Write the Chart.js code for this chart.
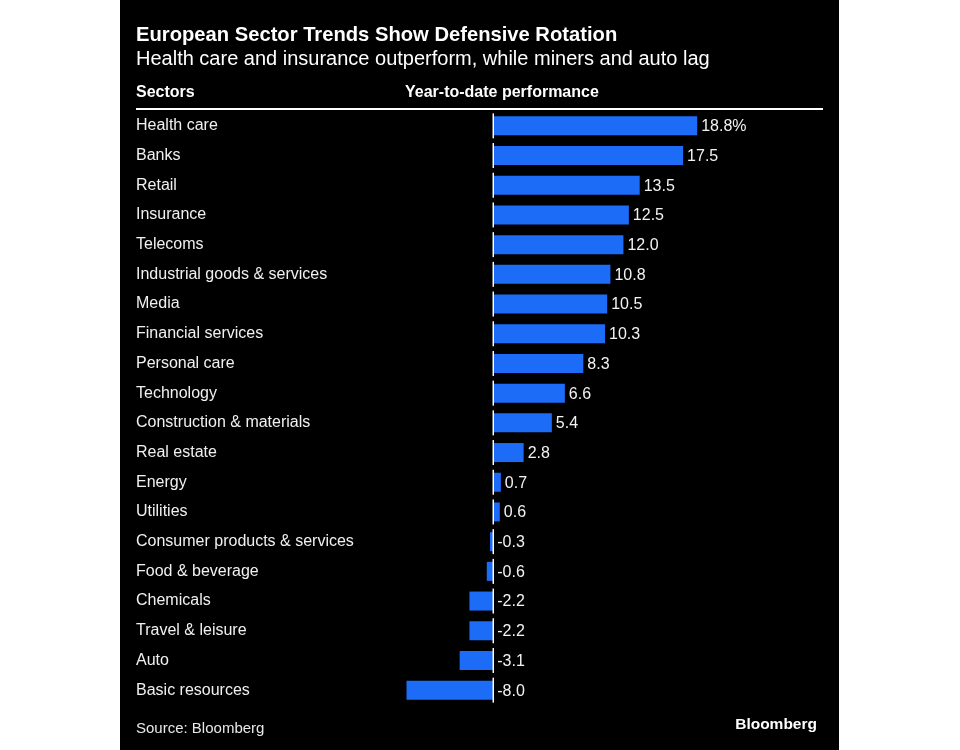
<!DOCTYPE html>
<html>
<head>
<meta charset="utf-8">
<script src="https://cdn.jsdelivr.net/npm/chart.js@4"></script>
<style>
  html, body { margin: 0; padding: 0; background: #ffffff; }
  body { width: 960px; height: 750px; position: relative; overflow: hidden; font-family: "Liberation Sans", Arial, sans-serif; }
  #panel { position: absolute; left: 120px; top: 0; width: 719px; height: 750px; background: #000000; }
  .txt { position: absolute; color: #ffffff; white-space: nowrap; line-height: 1; }
  #title { left: 16px; top: 24px; font-size: 20.2px; font-weight: bold; }
  #subtitle { left: 16px; top: 48px; font-size: 20px; }
  #hdr1 { left: 16px; top: 84px; font-size: 16px; font-weight: bold; }
  #hdr2 { left: 285px; top: 84px; font-size: 16px; font-weight: bold; }
  #rule { position: absolute; left: 16px; top: 108px; width: 687px; height: 2px; background: #ffffff; }
  #source { left: 16px; top: 720px; font-size: 15px; color: #e8e8e8; }
  #logo { right: 22px; top: 716px; font-size: 15.5px; font-weight: bold; }
  canvas { position: absolute; left: 0; top: 0; }
</style>
</head>
<body>
<div id="panel">
  <canvas id="c" width="719" height="750"></canvas>
  <div class="txt" id="title">European Sector Trends Show Defensive Rotation</div>
  <div class="txt" id="subtitle">Health care and insurance outperform, while miners and auto lag</div>
  <div class="txt" id="hdr1">Sectors</div>
  <div class="txt" id="hdr2">Year-to-date performance</div>
  <div id="rule"></div>
  <div class="txt" id="source">Source: Bloomberg</div>
  <div class="txt" id="logo">Bloomberg</div>
</div>
<script>
const categories = [
  "Health care", "Banks", "Retail", "Insurance", "Telecoms",
  "Industrial goods & services", "Media", "Financial services", "Personal care", "Technology",
  "Construction & materials", "Real estate", "Energy", "Utilities", "Consumer products & services",
  "Food & beverage", "Chemicals", "Travel & leisure", "Auto", "Basic resources"
];
const values = [18.8, 17.5, 13.5, 12.5, 12.0, 10.8, 10.5, 10.3, 8.3, 6.6, 5.4, 2.8, 0.7, 0.6, -0.3, -0.6, -2.2, -2.2, -3.1, -8.0];
const valueLabels = ["18.8%", "17.5", "13.5", "12.5", "12.0", "10.8", "10.5", "10.3", "8.3", "6.6", "5.4", "2.8", "0.7", "0.6", "-0.3", "-0.6", "-2.2", "-2.2", "-3.1", "-8.0"];
const xMin = -8.6, xMax = 30.4;

const FONT = '"Liberation Sans", Arial, sans-serif';

const barExtras = {
  id: 'barExtras',
  afterDatasetsDraw(chart) {
    const ctx = chart.ctx;
    const xs = chart.scales.x;
    const x0 = xs.getPixelForValue(0);
    const meta = chart.getDatasetMeta(0);
    ctx.save();
    meta.data.forEach((bar, i) => {
      const h = bar.height;
      ctx.strokeStyle = '#ffffff';
      ctx.lineWidth = 1.5;
      ctx.beginPath();
      ctx.moveTo(x0, bar.y - h / 2 - 3);
      ctx.lineTo(x0, bar.y + h / 2 + 3);
      ctx.stroke();
      const v = values[i];
      const lx = (v >= 0 ? bar.x : x0) + 4;
      ctx.fillStyle = '#f2f2f2';
      ctx.font = '16px ' + FONT;
      ctx.textAlign = 'left';
      ctx.textBaseline = 'middle';
      ctx.fillText(valueLabels[i], lx, bar.y + 1);
    });
    ctx.restore();
  }
};

new Chart(document.getElementById('c'), {
  type: 'bar',
  data: {
    labels: categories,
    datasets: [{
      data: values,
      backgroundColor: '#1d6cf7',
      borderWidth: 0,
      categoryPercentage: 1.0,
      barPercentage: 0.64
    }]
  },
  options: {
    indexAxis: 'y',
    responsive: false,
    animation: false,
    devicePixelRatio: 1,
    layout: { padding: { top: 111, bottom: 45, left: 16, right: 16 } },
    plugins: { legend: { display: false }, tooltip: { enabled: false }, title: { display: false } },
    scales: {
      x: {
        min: xMin, max: xMax,
        display: false,
        grid: { display: false }
      },
      y: {
        grid: { display: false, drawTicks: false },
        border: { display: false },
        afterFit(scale) { scale.width = 264; },
        ticks: {
          crossAlign: 'far',
          color: '#f0f0f0',
          padding: 0,
          font: { family: FONT, size: 16 }
        }
      }
    }
  },
  plugins: [barExtras]
});
</script>
</body>
</html>
